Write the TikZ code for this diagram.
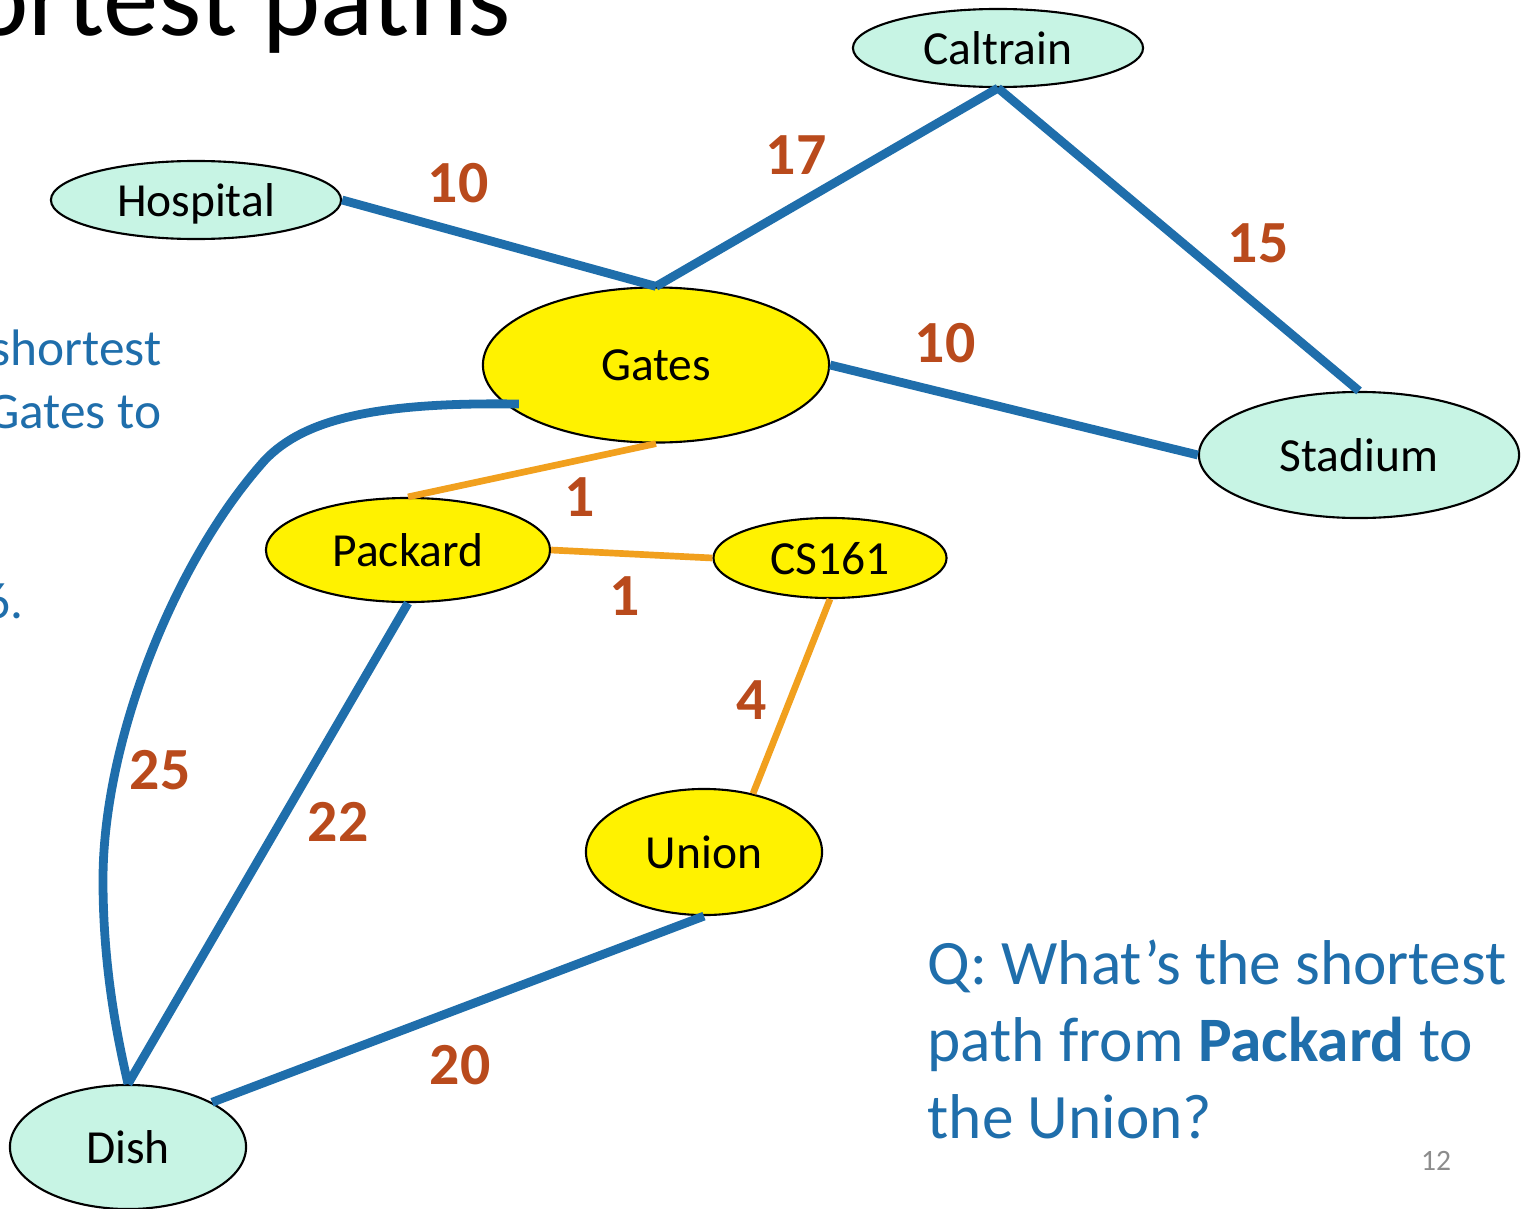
\documentclass[tikz,border=0pt]{standalone}
\usepackage{fontspec}
\setmainfont{Carlito}
\usetikzlibrary{shapes.geometric}

\definecolor{mint}{RGB}{199,244,228}
\definecolor{roadblue}{RGB}{31,110,171}
\definecolor{pathorange}{RGB}{241,160,30}
\definecolor{weightbrown}{RGB}{185,74,28}
\definecolor{slidegray}{RGB}{140,140,140}

\begin{document}
\begin{tikzpicture}[x=0.01cm, y=-0.01cm,
    farstop/.style={ellipse, draw, line width=0.6pt, fill=mint, inner sep=0pt,
        text depth=0pt, font=\fontsize{13.5}{16}\selectfont},
    nearstop/.style={farstop, fill=yellow},
    road/.style={roadblue, line width=2.5pt},
    shortroad/.style={pathorange, line width=1.9pt},
    weight/.style={text=weightbrown, inner sep=0pt, font=\fontsize{17}{20}\selectfont\bfseries},
    slidetext/.style={text=roadblue, inner sep=0pt, align=left}]
    \clip (0,0) rectangle (1527,1209);

    \node[anchor=base east, inner sep=0pt, font=\fontsize{31.5}{36}\selectfont] (title) at (512,35) {Shortest paths};
    \node[slidetext, anchor=base east, font=\fontsize{14.6}{17}\selectfont] (side1) at (162,365) {shortest};
    \node[slidetext, anchor=base east, font=\fontsize{14.6}{17}\selectfont] (side2) at (162,428) {Gates to};
    \node[slidetext, anchor=base east, font=\fontsize{14.6}{17}\selectfont] (side3) at (24,618) {6.};

    \node[farstop, minimum width=2.9cm, minimum height=0.78cm] (Caltrain) at (998,48) {Caltrain};
    \node[farstop, minimum width=2.9cm, minimum height=0.78cm] (Hospital) at (196,200) {Hospital};
    \node[nearstop, minimum width=3.46cm, minimum height=1.55cm] (Gates) at (656,365) {Gates};
    \node[farstop, minimum width=3.2cm, minimum height=1.26cm] (Stadium) at (1359,455) {Stadium};
    \node[nearstop, minimum width=2.84cm, minimum height=1.04cm] (Packard) at (408,550) {Packard};
    \node[nearstop, minimum width=2.33cm, minimum height=0.8cm] (CS161) at (830,558) {CS161};
    \node[nearstop, minimum width=2.36cm, minimum height=1.26cm] (Union) at (704,852) {Union};
    \node[farstop, minimum width=2.36cm, minimum height=1.24cm] (Dish) at (128,1147) {Dish};

    \coordinate (gatesdock) at ([xshift=-1.37cm, yshift=-0.39cm]Gates.center);

    \draw[road] (Hospital.east) -- (Gates.north);
    \draw[road] (Caltrain.south) -- (Gates.north);
    \draw[road] (Caltrain.south) -- (Stadium.north);
    \draw[road] (Gates.east) -- (Stadium.west);
    \draw[road] (Packard.south) -- (Dish.north);
    \draw[road] (Union.south) -- (Dish.28);
    \draw[road] (gatesdock) .. controls (380,402) and (305,418) .. (265,460)
        .. controls (175,560) and (103,740) .. (103,880)
        .. controls (103,970) and (118,1040) .. (Dish.north);
    \draw[shortroad] (Gates.south) -- (Packard.north);
    \draw[shortroad] (Packard.east) -- (CS161.west);
    \draw[shortroad] (CS161.south) -- (Union.50);

    \node[weight] (w1) at (458,183) {10};
    \node[weight] (w2) at (796,155) {17};
    \node[weight] (w3) at (1258,243) {15};
    \node[weight] (w4) at (945,343) {10};
    \node[weight] (w5) at (580,497) {1};
    \node[weight] (w6) at (625,596) {1};
    \node[weight] (w7) at (752,700) {4};
    \node[weight] (w8) at (160,770) {25};
    \node[weight] (w9) at (338,822) {22};
    \node[weight] (w10) at (460,1065) {20};

    \node[slidetext, anchor=base west, font=\fontsize{18}{21.8}\selectfont] (question) at (927,1138)
        {Q: What’s the shortest\\path from \textbf{Packard} to\\the Union?};
    \node[text=slidegray, inner sep=0pt, font=\fontsize{8.4}{10}\selectfont] (pagenum) at (1436,1161) {12};
\end{tikzpicture}
\end{document}
